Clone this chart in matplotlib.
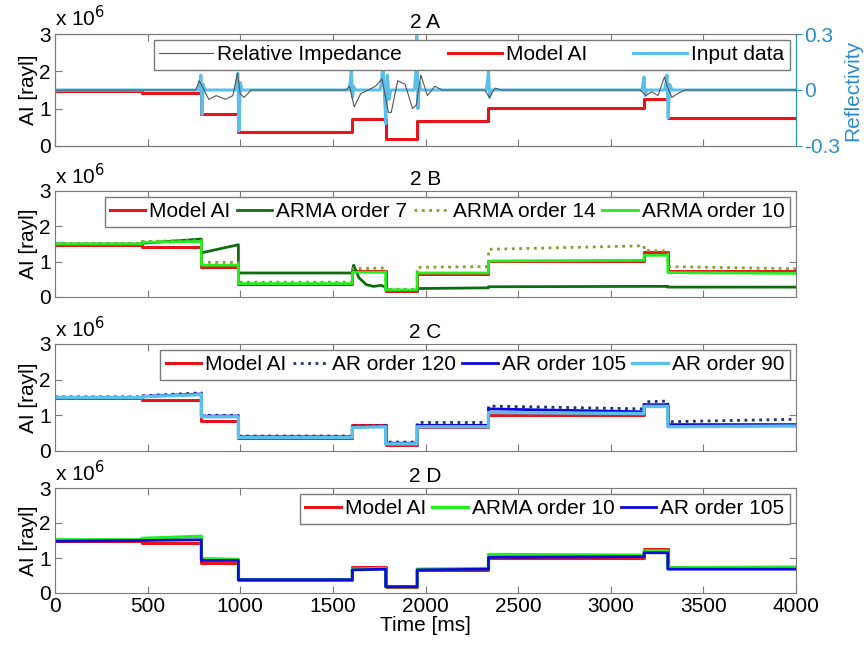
import numpy as np
import matplotlib
matplotlib.use("Agg")
import matplotlib.pyplot as plt

plt.rcParams['font.family'] = ['Liberation Sans', 'DejaVu Sans']
plt.rcParams['font.size'] = 15

# layer boundaries [ms]
edges = [0, 470, 790, 990, 1605, 1785, 1955, 2340, 3180, 3308, 4000]

# acoustic impedance per layer, x 10^6 rayl (start / end of each layer)
model_ai = [1.48, 1.42, 0.85, 0.37, 0.73, 0.18, 0.66, 1.01, 1.27, 0.74]

arma7_start = [1.50, 1.52, 1.25, 0.68, 0.88, 0.20, 0.24, 0.29, 0.30, 0.28]
arma7_end = [1.50, 1.64, 1.48, 0.68, 0.30, 0.18, 0.26, 0.30, 0.30, 0.28]
arma14_start = [1.52, 1.57, 0.98, 0.42, 0.80, 0.22, 0.84, 1.35, 1.32, 0.86]
arma14_end = [1.52, 1.60, 0.98, 0.42, 0.82, 0.22, 0.86, 1.45, 1.30, 0.80]
arma10b_start = [1.50, 1.55, 0.90, 0.38, 0.70, 0.20, 0.68, 1.02, 1.18, 0.69]
arma10b_end = [1.50, 1.57, 0.90, 0.38, 0.70, 0.20, 0.68, 1.04, 1.18, 0.67]

ar120_start = [1.52, 1.55, 1.00, 0.42, 0.70, 0.25, 0.80, 1.26, 1.38, 0.82]
ar120_end = [1.52, 1.63, 1.00, 0.42, 0.72, 0.25, 0.80, 1.18, 1.40, 0.89]
ar105_start = [1.50, 1.53, 0.98, 0.40, 0.68, 0.22, 0.72, 1.18, 1.30, 0.74]
ar105_end = [1.50, 1.60, 0.98, 0.40, 0.70, 0.22, 0.72, 1.10, 1.30, 0.74]
ar90_start = [1.50, 1.52, 0.96, 0.38, 0.66, 0.20, 0.68, 1.08, 1.25, 0.68]
ar90_end = [1.50, 1.58, 0.96, 0.38, 0.68, 0.20, 0.68, 1.05, 1.25, 0.70]

arma10d_start = [1.52, 1.56, 0.98, 0.38, 0.68, 0.18, 0.68, 1.10, 1.20, 0.72]
arma10d_end = [1.52, 1.62, 0.96, 0.38, 0.70, 0.18, 0.70, 1.08, 1.20, 0.74]
ar105d_start = [1.48, 1.50, 0.93, 0.38, 0.66, 0.18, 0.66, 1.02, 1.15, 0.68]
ar105d_end = [1.50, 1.52, 0.93, 0.38, 0.68, 0.18, 0.68, 1.04, 1.15, 0.68]

# ARMA order 7 decay after the 1605 ms interface
arma7_decay_t = [1605, 1612, 1640, 1680, 1720, 1760, 1785]
arma7_decay_v = [0.70, 0.90, 0.55, 0.35, 0.30, 0.33, 0.28]

# input reflectivity trace
refl_t = [0, 775, 782, 788, 794, 800, 808,
          975, 982, 987, 993, 1000, 1010,
          1588, 1595, 1600, 1606, 1612, 1622,
          1755, 1763, 1770, 1778, 1786, 1794, 1803, 1812,
          1940, 1947, 1953, 1959, 1966, 1975,
          2328, 2335, 2340, 2346, 2355,
          3168, 3175, 3180, 3186, 3195,
          3290, 3298, 3304, 3310, 3318, 3330, 4000]
refl_v = [0, 0, 0.04, 0.08, -0.13, 0.03, 0,
          0, 0.05, 0.09, -0.22, 0.04, 0,
          0, 0.06, 0.12, -0.04, 0.02, 0,
          0, 0.05, 0.16, -0.02, -0.18, 0.08, -0.05, 0,
          0, 0.08, 0.35, -0.10, 0.04, 0,
          0, 0.05, 0.10, -0.04, 0,
          0, 0.04, 0.07, -0.03, 0,
          0, 0.04, 0.08, -0.15, 0.03, 0, 0]

# relative impedance trace
imp_t = [0, 760, 778, 800, 830, 870, 920, 960, 985, 1000, 1020, 1060,
         1570, 1590, 1615, 1650, 1690, 1730, 1765, 1800, 1815, 1850, 1890,
         1930, 1950, 1975, 2010, 2050, 2090, 2320, 2345, 2375, 2410,
         3160, 3190, 3220, 3255, 3290, 3305, 3330, 3360, 3400, 4000]
imp_v = [0, 0, 0.05, 0.01, -0.05, -0.03, -0.05, -0.03, 0.09, -0.02, -0.04, 0,
         0, 0.02, -0.09, -0.02, 0.0, 0.02, 0.06, -0.12, -0.12, 0.05, 0.03,
         -0.10, -0.08, 0.08, -0.03, 0.02, 0, 0, -0.04, 0.01, 0,
         0, -0.03, -0.01, -0.03, 0.07, 0.02, -0.04, -0.02, 0, 0]

RED = '#e8141c'
GRAY = '#7a7a7a'
REFL = '#2b8ccb'


def layers(starts, ends=None, insert=None):
    if ends is None:
        ends = starts
    t, v = [], []
    for i in range(len(starts)):
        if insert is not None and edges[i] == insert[0][0]:
            t += list(insert[0])
            v += list(insert[1])
            continue
        t += [edges[i], edges[i + 1]]
        v += [starts[i], ends[i]]
    return np.array(t), np.array(v)


def style_axes(ax, title, last=False):
    ax.set_xlim(0, 4000)
    ax.set_ylim(0, 3)
    ax.set_yticks([0, 1, 2, 3])
    ax.set_xticks(np.arange(0, 4001, 500))
    ax.tick_params(direction='in', length=5, color=GRAY, top=True,
                   right=True, labelbottom=last, pad=3)
    for s in ax.spines.values():
        s.set_color(GRAY)
    ax.set_ylabel('AI [rayl]', labelpad=1)
    ax.set_title(title, fontsize=15, pad=4)
    ax.text(0, 1.03, r'x 10$^6$', transform=ax.transAxes, ha='left',
            va='bottom', fontsize=15)


fig = plt.figure(figsize=(8.64, 6.46), dpi=100)
left, width = 55 / 864, 741 / 864
axA = fig.add_axes([left, 1 - 146 / 646, width, 112 / 646])
axB = fig.add_axes([left, 1 - 297 / 646, width, 106 / 646])
axC = fig.add_axes([left, 1 - 451 / 646, width, 107 / 646])
axD = fig.add_axes([left, 1 - 593 / 646, width, 105 / 646])

leg_kw = dict(loc='upper right', frameon=True, fancybox=False,
              edgecolor=GRAY, framealpha=1, fontsize=15, ncol=4,
              handlelength=1.7, handletextpad=0.2, columnspacing=0.3,
              borderpad=0.25, borderaxespad=0.3)

# 2 A: model, input reflectivity and relative impedance
hm, = axA.plot(*layers(model_ai), color=RED, lw=2.2, label='Model AI')
style_axes(axA, '2 A')
ax2 = axA.twinx()
ax2.set_ylim(-0.3, 0.3)
hr, = ax2.plot(refl_t, refl_v, color='#5bbfe9', lw=2.2, label='Input data',
               solid_joinstyle='round')
hi, = ax2.plot(imp_t, imp_v, color='#555555', lw=0.8,
               label='Relative Impedance')
ax2.set_yticks([-0.3, 0, 0.3])
ax2.set_yticklabels(['-0.3', '0', '0.3'])
ax2.tick_params(colors=REFL, direction='out', length=4, pad=2)
for s in ax2.spines.values():
    s.set_color(GRAY)
ax2.spines['right'].set_color(REFL)
ax2.set_ylabel('Reflectivity', color=REFL, labelpad=2)
kwA = dict(leg_kw)
kwA.update(ncol=3, columnspacing=2.2, handlelength=2.6, borderaxespad=0.3)
ax2.legend([hi, hm, hr], ['Relative Impedance', 'Model AI', 'Input data'],
           **kwA)

# 2 B: ARMA inversions
axB.plot(*layers(model_ai), color=RED, lw=2.2, label='Model AI')
axB.plot(*layers(arma7_start, arma7_end, (arma7_decay_t, arma7_decay_v)),
         color='#116b11', lw=2, label='ARMA order 7')
axB.plot(*layers(arma14_start, arma14_end), color='#8c9a2e', lw=2,
         ls=':', label='ARMA order 14')
axB.plot(*layers(arma10b_start, arma10b_end), color='#22ee22', lw=2,
         label='ARMA order 10')
style_axes(axB, '2 B')
axB.legend(**leg_kw)

# 2 C: AR inversions
axC.plot(*layers(model_ai), color=RED, lw=2.2, label='Model AI')
axC.plot(*layers(ar120_start, ar120_end), color='#1f2f6f', lw=2,
         ls=':', label='AR order 120')
axC.plot(*layers(ar105_start, ar105_end), color='#0a0adc', lw=2,
         label='AR order 105')
axC.plot(*layers(ar90_start, ar90_end), color='#5bbfe9', lw=2.4,
         label='AR order 90')
style_axes(axC, '2 C')
axC.legend(**leg_kw)

# 2 D: best ARMA vs best AR
axD.plot(*layers(model_ai), color=RED, lw=2.2, label='Model AI')
axD.plot(*layers(arma10d_start, arma10d_end), color='#22ee22', lw=2.4,
         label='ARMA order 10')
axD.plot(*layers(ar105d_start, ar105d_end), color='#0a0adc', lw=2,
         label='AR order 105')
style_axes(axD, '2 D', last=True)
axD.set_xlabel('Time [ms]', labelpad=0)
axD.legend(**leg_kw)

fig.savefig('out.png', dpi=100)
